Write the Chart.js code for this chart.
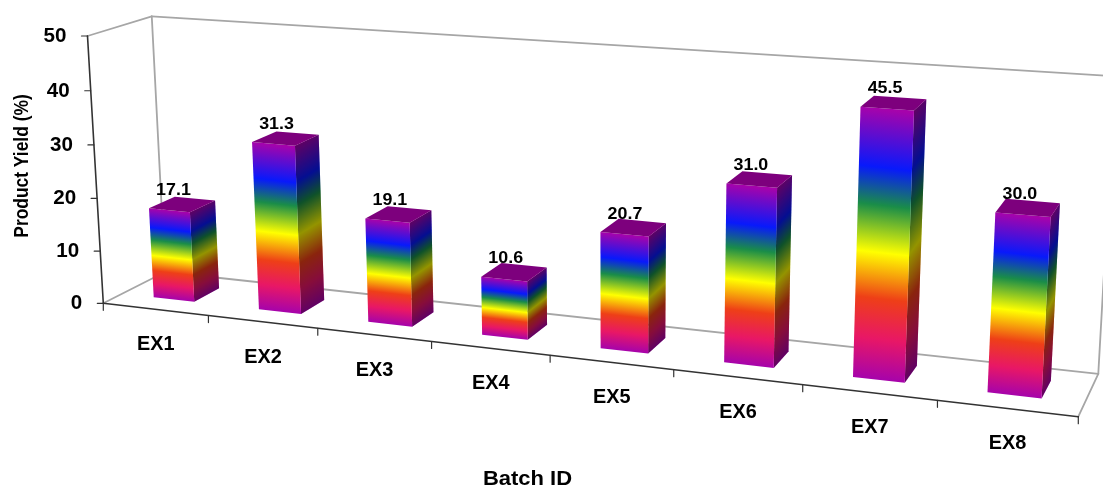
<!DOCTYPE html>
<html><head><meta charset="utf-8">
<style>html,body{margin:0;padding:0;background:#fff}canvas{display:block}</style>
<script src="https://cdn.jsdelivr.net/npm/chart.js@4"></script>
</head><body><canvas id="c" width="1103" height="491"></canvas>
<script>
const categories = ['EX1','EX2','EX3','EX4','EX5','EX6','EX7','EX8'];
const yieldValues = [17.1,31.3,19.1,10.6,20.7,31.0,45.5,30.0];
const yAxisTitle = 'Product Yield (%)';
const xAxisTitle = 'Batch ID';
const rainbowStops = [[0,'#a603ab'],[0.15,'#e81766'],[0.30,'#ee3f17'],[0.47,'#ffff00'],[0.645,'#1a8d48'],[0.785,'#0819fb'],[1,'#a603ab']];

// camera: where the plot box corners land
const O=[103.3,303.3], X=[1078.3,416.7], Y=[87.5,36], Z=[165,272];
const A=0.846, B=0.97, G=1.048;
const DEPTH0=0.30, DEPTH1=0.72;
const FONT='"Liberation Sans", Arial, sans-serif';
const SOFT='blur(0.45px)';

function proj(u,v,w){
  const d=1+(A-1)*u+(B-1)*v+(G-1)*w;
  const f=i=>O[i]+u*(A*X[i]-O[i])+v*(B*Y[i]-O[i])+w*(G*Z[i]-O[i]);
  return [f(0)/d,f(1)/d];
}
function line(ctx,p,q,color,width){
  ctx.beginPath();ctx.moveTo(p[0],p[1]);ctx.lineTo(q[0],q[1]);
  ctx.strokeStyle=color;ctx.lineWidth=width;ctx.stroke();
}
function text(ctx,s,x,y,px,sx,align,rot){
  ctx.save();ctx.translate(x,y);if(rot)ctx.rotate(rot);ctx.scale(sx,1);
  ctx.font='bold '+px+'px '+FONT;ctx.fillStyle='#000';ctx.textAlign=align;ctx.textBaseline='middle';
  ctx.fillText(s,0,0);ctx.restore();
}
function face(ctx,a,b,c,d,shade){
  const ex=b[0]-a[0],ey=b[1]-a[1],l=Math.hypot(ex,ey);
  let nx=-ey/l,ny=ex/l;
  let t=(d[0]-a[0])*nx+(d[1]-a[1])*ny;
  const g=ctx.createLinearGradient(a[0],a[1],a[0]+nx*t,a[1]+ny*t);
  rainbowStops.forEach(s=>g.addColorStop(s[0],s[1]));
  const path=()=>{ctx.beginPath();ctx.moveTo(a[0],a[1]);ctx.lineTo(b[0],b[1]);ctx.lineTo(c[0],c[1]);ctx.lineTo(d[0],d[1]);ctx.closePath();};
  path();ctx.fillStyle=g;ctx.fill();
  if(shade){path();ctx.fillStyle='rgba(0,0,0,'+shade+')';ctx.fill();}
}
const box3d={
  id:'box3d',
  beforeDatasetsDraw(chart){
    const ctx=chart.ctx,xs=chart.scales.x,ys=chart.scales.y;
    const vOf=val=>(ys.bottom-ys.getPixelForValue(val))/(ys.bottom-ys.top);
    const GREY='#a6a6a6',DARK='#333';
    const C=proj(1,0,1),F=proj(0,1,1),D=proj(0,0,1),T=proj(1,1,1),front=proj(1,0,0),top=proj(0,1,0),o=proj(0,0,0);
    ctx.save();ctx.lineCap='round';ctx.filter=SOFT;
    [[o,D],[D,C],[C,front],[top,F],[F,D],[F,T],[C,T]].forEach(s=>line(ctx,s[0],s[1],GREY,1.8));
    line(ctx,o,front,DARK,1.6);line(ctx,o,top,DARK,1.6);
    ys.ticks.forEach(t=>{
      const p=proj(0,vOf(t.value),0);
      line(ctx,[p[0]-6,p[1]],p,DARK,1.2);
      text(ctx,t.label,p[0]-21,p[1]+0.5,20,1.03,'right');
    });
    const n=categories.length;
    for(let i=0;i<=n;i++){
      const p=proj(i/n,0,0);
      line(ctx,p,[p[0],p[1]+7],DARK,1.2);
    }
    categories.forEach((c,i)=>{
      const p=proj((xs.getPixelForValue(i)-xs.left)/(xs.right-xs.left),0,0);
      text(ctx,c,p[0]+0.5,p[1]+35.5,19.5,1.02,'center');
    });
    text(ctx,yAxisTitle,22,166,20,0.87,'center',-Math.PI/2);
    text(ctx,xAxisTitle,527.5,479.5,20,1.1,'center');
    ctx.restore();
  },
  beforeDatasetDraw(){return false;},
  afterDatasetsDraw(chart){
    const ctx=chart.ctx,xs=chart.scales.x,ys=chart.scales.y,W=xs.right-xs.left,H=ys.bottom-ys.top;
    ctx.save();ctx.filter=SOFT;
    chart.getDatasetMeta(0).data.forEach((bar,i)=>{
      const u0=(bar.x-bar.width/2-xs.left)/W,u1=(bar.x+bar.width/2-xs.left)/W;
      const v=(ys.bottom-bar.y)/H;
      const a=proj(u0,0,DEPTH0),b=proj(u1,0,DEPTH0),c=proj(u1,0,DEPTH1);
      const d=proj(u0,v,DEPTH0),e=proj(u1,v,DEPTH0),f=proj(u1,v,DEPTH1),g=proj(u0,v,DEPTH1);
      face(ctx,b,c,f,e,0.42);
      face(ctx,a,b,e,d,0);
      ctx.beginPath();ctx.moveTo(d[0],d[1]);ctx.lineTo(e[0],e[1]);ctx.lineTo(f[0],f[1]);ctx.lineTo(g[0],g[1]);ctx.closePath();
      ctx.fillStyle='#7d007d';ctx.fill();
      text(ctx,yieldValues[i].toFixed(1),d[0]+24.5,d[1]-18,17,1.05,'center');
    });
    ctx.restore();
  }
};
new Chart(document.getElementById('c'),{
  type:'bar',
  data:{labels:categories,datasets:[{label:'Product Yield (%)',data:yieldValues,barPercentage:0.39,categoryPercentage:1,backgroundColor:'#a603ab'}]},
  options:{
    responsive:false,animation:false,devicePixelRatio:1,
    layout:{padding:0},
    plugins:{legend:{display:false},tooltip:{enabled:false},title:{display:false}},
    scales:{
      x:{display:false},
      y:{display:false,min:0,max:50,ticks:{stepSize:10}}
    }
  },
  plugins:[box3d]
});
</script></body></html>
